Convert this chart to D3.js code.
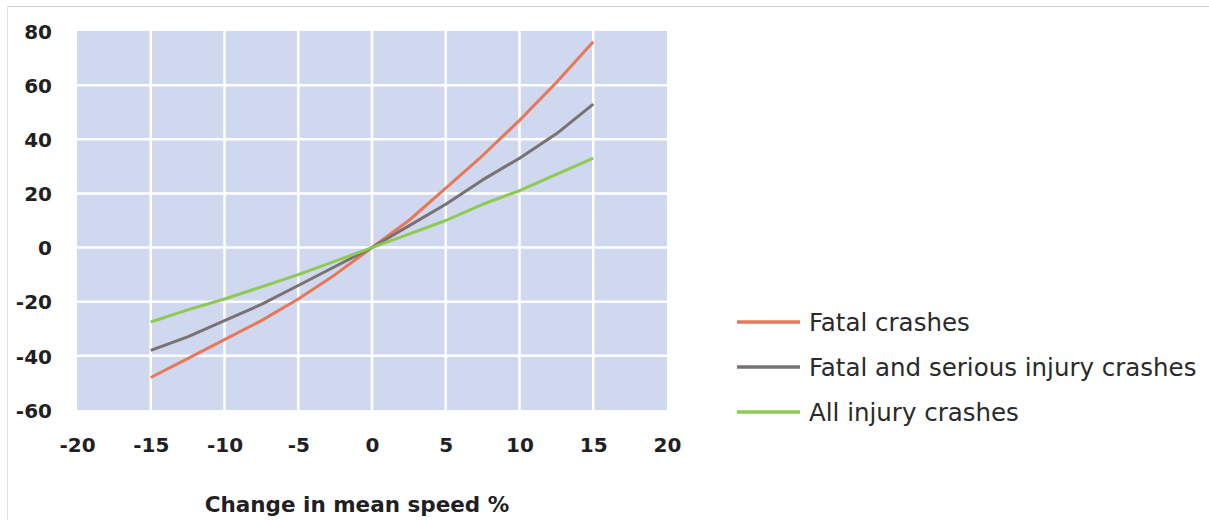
<!DOCTYPE html>
<html><head><meta charset="utf-8">
<script src="https://cdn.jsdelivr.net/npm/d3@7"></script>
<style>body{margin:0;background:#fff}svg{display:block}</style>
</head><body>
<svg id="c" width="1209" height="520"></svg>
<script>
const speedChange = [-15, -12.5, -10, -7.5, -5, -2.5, 0, 2.5, 5, 7.5, 10, 12.5, 15];
const fatal       = [-48, -41, -34, -27, -19, -10, 0, 10, 22, 34, 47, 61, 76];
const fatalSerious= [-38, -33, -27, -21, -14, -7, 0, 8, 16, 25, 33, 42, 53];
const allInjury   = [-27.5, -23, -19, -14.5, -10, -5, 0, 5, 10, 16, 21, 27, 33];
const xTicks = [-20, -15, -10, -5, 0, 5, 10, 15, 20];
const yTicks = [80, 60, 40, 20, 0, -20, -40, -60];
const seriesNames = ["Fatal crashes", "Fatal and serious injury crashes", "All injury crashes"];
const seriesColors = ["#e6785a", "#7a7171", "#8dca52"];
const seriesData = [fatal, fatalSerious, allInjury];

const svg = d3.select("#c");
const x = d3.scaleLinear().domain([-20, 20]).range([77, 667]);
const y = d3.scaleLinear().domain([-60, 80]).range([410, 31]);
const fmt = d => String(d);

// frame
svg.append("line").attr("x1", 7).attr("x2", 1209).attr("y1", 6.5).attr("y2", 6.5).attr("stroke", "#d4d4d4").attr("stroke-width", 1);
svg.append("line").attr("x1", 7.5).attr("x2", 7.5).attr("y1", 6).attr("y2", 520).attr("stroke", "#e0e0e0").attr("stroke-width", 1);

// plot background
svg.append("rect").attr("x", x(-20)).attr("y", y(80)).attr("width", x(20) - x(-20)).attr("height", y(-60) - y(80)).attr("fill", "#cfd8ee");

// gridlines
const g = svg.append("g");
g.selectAll("line.v").data(xTicks.slice(1, -1)).enter().append("line")
  .attr("x1", d => x(d)).attr("x2", d => x(d)).attr("y1", y(80)).attr("y2", y(-60))
  .attr("stroke", "#fff").attr("stroke-width", 2.5);
g.selectAll("line.h").data(yTicks.slice(1, -1)).enter().append("line")
  .attr("y1", d => y(d)).attr("y2", d => y(d)).attr("x1", x(-20)).attr("x2", x(20))
  .attr("stroke", "#fff").attr("stroke-width", 2.5);

// axes
const yAxis = d3.axisLeft(y).tickValues(yTicks).tickFormat(fmt).tickSize(0).tickPadding(0);
const ya = svg.append("g").attr("transform", "translate(52,0)").call(yAxis);
ya.select(".domain").remove();
ya.selectAll("text").attr("font-family", "DejaVu Sans").attr("font-weight", "bold").attr("font-size", 20).attr("fill", "#1f1f24").attr("dy", "0.36em");

const xAxis = d3.axisBottom(x).tickValues(xTicks).tickFormat(fmt).tickSize(0).tickPadding(0);
const xa = svg.append("g").attr("transform", "translate(0,445)").call(xAxis);
xa.select(".domain").remove();
xa.selectAll("text").attr("font-family", "DejaVu Sans").attr("font-weight", "bold").attr("font-size", 20).attr("fill", "#1f1f24").attr("dy", "0.36em");

svg.append("text").attr("x", 357).attr("y", 512).attr("text-anchor", "middle")
  .attr("font-family", "DejaVu Sans").attr("font-weight", "bold").attr("font-size", 21.5).attr("fill", "#1f1f24")
  .text("Change in mean speed %");

// lines
const line = d3.line().x((d, i) => x(speedChange[i])).y(d => y(d));
seriesData.forEach((s, k) => {
  svg.append("path").datum(s).attr("d", line).attr("fill", "none")
    .attr("stroke", seriesColors[k]).attr("stroke-width", 3).attr("stroke-linejoin", "round");
});

// legend
const legY = [322, 367, 412];
seriesNames.forEach((n, k) => {
  svg.append("line").attr("x1", 737).attr("x2", 800).attr("y1", legY[k]).attr("y2", legY[k])
    .attr("stroke", seriesColors[k]).attr("stroke-width", 3.5);
  svg.append("text").attr("x", 809).attr("y", legY[k]).attr("dy", "0.36em")
    .attr("font-family", "DejaVu Sans").attr("font-size", 24.5).attr("fill", "#2a2a2a").text(n);
});
</script>
</body></html>
